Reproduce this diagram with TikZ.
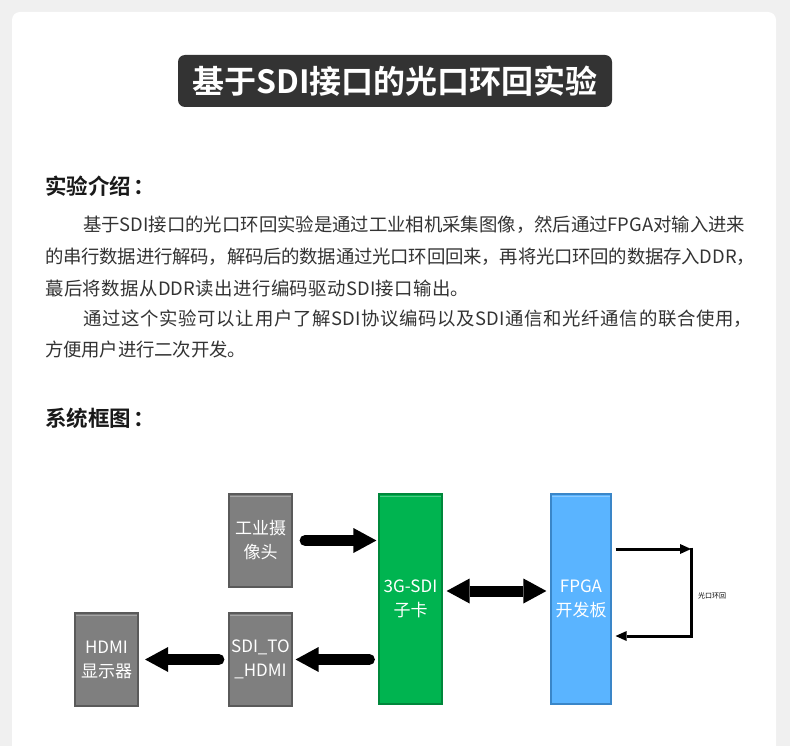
\documentclass[tikz,border=0pt]{standalone}
\usepackage{fontspec}
\setmainfont{Noto Sans CJK SC}[BoldFont=Noto Sans CJK SC Bold]
\usetikzlibrary{positioning,arrows.meta,calc}
\XeTeXlinebreaklocale "zh"
\XeTeXlinebreakskip=0pt plus 3pt minus 1pt
\definecolor{pagebg}{HTML}{F0F0F0}
\definecolor{titlebg}{HTML}{333333}
\definecolor{bodytxt}{HTML}{333333}
\definecolor{boxgray}{HTML}{7F7F7F}
\definecolor{boxgrayline}{HTML}{5A5A5A}
\definecolor{boxgreen}{HTML}{00B450}
\definecolor{boxgreenline}{HTML}{00873B}
\definecolor{boxblue}{HTML}{5AB4FF}
\definecolor{boxblueline}{HTML}{3A86C8}
\newcommand{\jline}[2]{\parbox{#1}{\parindent=0pt\parfillskip=0pt\relax #2}}
\tikzset{
  titlebox/.style={fill=titlebg, rounded corners=7pt, minimum width=434pt, minimum height=52pt,
    inner sep=0pt, text=white, font=\bfseries\fontsize{32pt}{38pt}\selectfont},
  headtxt/.style={anchor=west, inner sep=0pt, text=black!90, font=\bfseries\fontsize{21.5pt}{26pt}\selectfont},
  bodyline/.style={anchor=west, inner sep=0pt, text=bodytxt, font=\fontsize{18.4pt}{22pt}\selectfont},
  blockbox/.style={draw=#1line, fill=#1, line width=1.2pt, inner sep=0pt, text=white, align=center,
    font=\fontsize{17pt}{24pt}\selectfont,
    path picture={\draw[white, opacity=.3, line width=1pt]
      ([yshift=-2pt]path picture bounding box.north west) -- ([yshift=-2pt]path picture bounding box.north east);}},
  fatarrow/.style={line width=11pt, line cap=round, -{Triangle[length=23pt,width=25pt,line width=0pt]}},
  fatboth/.style={line width=11pt, {Triangle[length=23pt,width=25pt,line width=0pt]}-{Triangle[length=23pt,width=25pt,line width=0pt]}},
  thinarrow/.style={line width=3pt, -{Triangle[length=11pt,width=10pt,line width=0pt]}},
  looplbl/.style={anchor=west, inner sep=0pt, font=\fontsize{7pt}{8pt}\selectfont}
}
\begin{document}
\begin{tikzpicture}[x=1pt,y=-1pt]
\useasboundingbox (0,0) rectangle (790,746);
\fill[pagebg] (0,0) rectangle (790,746);
\fill[white, rounded corners=8pt] (12,12) rectangle (776,770);
% title and text
\node[titlebox] (title) at (395,81) {基于SDI接口的光口环回实验};
\node[headtxt] (intro) at (45,186) {实验介绍\kern2pt：};
\node[bodyline] (l1) at (83,225) {\jline{662pt}{基于SDI接口的光口环回实验是通过工业相机采集图像，然后通过FPGA对输入进来}};
\node[bodyline] (l2) at (45,257) {\jline{710pt}{的串行数据进行解码，解码后的数据通过光口环回回来，再将光口环回的数据存入DDR，}};
\node[bodyline] (l3) at (45,288) {\jline{424pt}{蕞后将数据从DDR读出进行编码驱动SDI接口输出。}};
\node[bodyline] (l4) at (83,319) {\jline{669pt}{通过这个实验可以让用户了解SDI协议编码以及SDI通信和光纤通信的联合使用，}};
\node[bodyline] (l5) at (45,350) {\jline{201pt}{方便用户进行二次开发。}};
\node[headtxt] (sys) at (45,418) {系统框图\kern2pt：};
% blocks
\node[blockbox=boxgray, minimum width=63pt, minimum height=93pt] (cam) at (260.5,540.5) {工业摄\\像头};
\node[blockbox=boxgray, minimum width=63pt, minimum height=93pt] (tohdmi) at (260.5,659.5) {SDI\_TO\\\_HDMI};
\node[blockbox=boxgray, minimum width=63pt, minimum height=93pt] (hdmi) at (106.5,659.5) {HDMI\\显示器};
\node[blockbox=boxgreen, minimum width=63pt, minimum height=210pt] (sdi) at (410.5,599) {3G-SDI\\子卡};
\node[blockbox=boxblue, minimum width=60pt, minimum height=210pt] (fpga) at (581,599) {FPGA\\开发板};
% connectors
\draw[fatarrow, shorten <=12.5pt, shorten >=2pt] (cam.east) -- (cam.east -| sdi.west);
\draw[fatarrow, shorten <=9pt, shorten >=3pt] (sdi.west |- tohdmi.east) -- (tohdmi.east);
\draw[fatarrow, shorten <=9.5pt, shorten >=6.5pt] (tohdmi.west) -- (hdmi.east);
\draw[fatboth, shorten <=4pt, shorten >=4pt] ([yshift=8pt]sdi.east) -- ([yshift=8pt]fpga.west);
\coordinate (lpa) at (691,549);
\coordinate (lpb) at (691,636);
\draw[thinarrow, shorten <=4pt] (fpga.east |- lpa) -- (lpa);
\draw[thinarrow, shorten >=4pt] ([yshift=1.5pt]lpa) -- (lpb) -- (fpga.east |- lpb);
\node[looplbl] (lbl) at (698,596) {光口环回};
\end{tikzpicture}
\end{document}
